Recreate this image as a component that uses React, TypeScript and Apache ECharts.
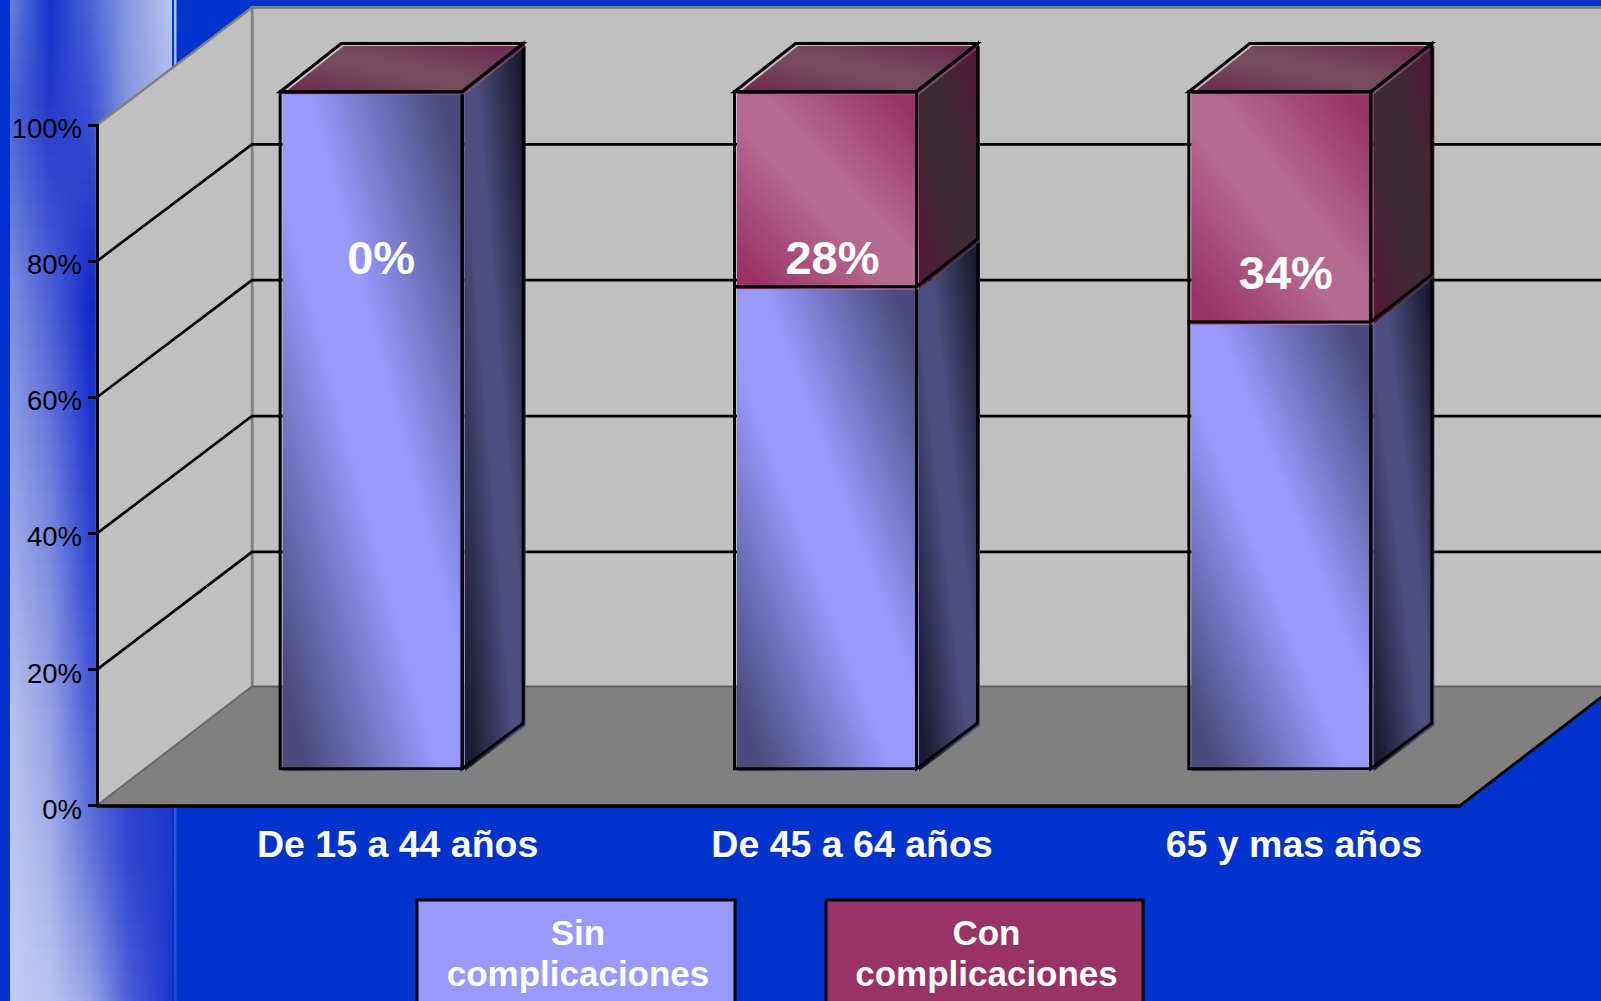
import React, { useEffect, useRef } from "react";
import * as echarts from "echarts";

const categories = ["De 15 a 44 años", "De 45 a 64 años", "65 y mas años"];
const sinValues = [100, 71.2, 66];
const conValues = [0, 28.8, 34];
const dataLabels = ["0%", "28%", "34%"];
const labelLevels = [80.5, 80.5, 78.3];
const labelShiftX = [57, 54, 53];
const gridValues = [20, 40, 60, 80];
const seriesNames = ["Sin complicaciones", "Con complicaciones"];

const W = 1601;
const H = 1001;
const FONT = '"Liberation Sans", Arial, sans-serif';
const BLUE = "#0033CC";

const AXIS_LEFT = 97;
const AXIS_WIDTH = 1363;
const AXIS_TOP = 125;
const AXIS_HEIGHT = 680.7;

const WALL_DX = 155;
const WALL_DY = 119;
const WALL_K = 0.9977;

const BAR_LEFT = -44;
const BAR_WIDTH = 182;
const BAR_INSET_Y = 37;
const BAR_K = 0.9945;
const BAR_DX = 61;
const BAR_DY_BASE = 45.5;
const BAR_DY_TOP = 2.7;
const FILL_SHIFT = 2.5;

const diag = (a: string, b: string) => ({
  type: "linear",
  x: 0,
  y: 1,
  x2: 1,
  y2: 0,
  colorStops: [
    { offset: 0, color: a },
    { offset: 0.07, color: a },
    { offset: 0.43, color: b },
    { offset: 0.57, color: b },
    { offset: 0.93, color: a },
    { offset: 1, color: a },
  ],
});

const blueFront = diag("#4a4a7c", "#9999ff");
const blueSide = diag("#1b1b30", "#4d4d80");
const redFront = diag("#993366", "#b56a90");
const redSide = diag("#4f1a34", "#3d2a35");
const redTop = diag("#6e2a50", "#744c5e");

// Mottled decoration stripe at the left of the slide
const stripeX = [10, 50, 90, 130, 172];
const stripeRows: [number, string[]][] = [
  [0, ["#6a80dc", "#1232cc", "#4a64d6", "#8a9ce2", "#b8c6ee"]],
  [100, ["#4a66d4", "#2438cc", "#3c50d2", "#8a98e0", "#acb8ea"]],
  [300, ["#8090e0", "#5060d6", "#1028c8", "#2a40d0", "#3a50d6"]],
  [500, ["#9aa8e8", "#7484de", "#2a40d0", "#1838cc", "#1838cc"]],
  [700, ["#b4c2ee", "#949fe4", "#4a5cd6", "#2a40d0", "#1838cc"]],
  [850, ["#bccaf0", "#a4b2ea", "#6676da", "#3044d0", "#1a38cc"]],
  [1001, ["#c0cef4", "#b8c6f0", "#98a6e6", "#4c5cd6", "#1a36d0"]],
];

const hex = (c: string) => [1, 3, 5].map((i) => parseInt(c.slice(i, i + 2), 16));
const mix = (a: string, b: string, t: number) => {
  const x = hex(a);
  const y = hex(b);
  return `rgb(${x.map((v, i) => Math.round(v + (y[i] - v) * t)).join(",")})`;
};

function stripeElements() {
  const out: any[] = [];
  const step = 12;
  for (let y = 0; y < H; y += step) {
    let r = 0;
    while (r < stripeRows.length - 2 && stripeRows[r + 1][0] <= y) r++;
    const [y0, c0] = stripeRows[r];
    const [y1, c1] = stripeRows[r + 1];
    const t = (y - y0) / (y1 - y0);
    out.push({
      type: "rect",
      z: -10,
      silent: true,
      shape: { x: stripeX[0], y, width: stripeX[4] - stripeX[0], height: step + 1 },
      style: {
        fill: {
          type: "linear",
          x: 0,
          y: 0,
          x2: 1,
          y2: 0,
          colorStops: stripeX.map((x, i) => ({
            offset: (x - stripeX[0]) / (stripeX[4] - stripeX[0]),
            color: mix(c0[i], c1[i], t),
          })),
        },
      },
    });
  }
  out.push({
    type: "rect",
    z: -9,
    silent: true,
    shape: { x: 174, y: 0, width: 2.5, height: H },
    style: {
      fill: {
        type: "linear",
        x: 0,
        y: 0,
        x2: 0,
        y2: 1,
        colorStops: [
          { offset: 0, color: "#b4c4ee" },
          { offset: 0.3, color: "#6a84e0" },
          { offset: 1, color: "#2048d4" },
        ],
      },
    },
  });
  return out;
}

function legendElements() {
  const boxes = [
    { x: 417, w: 318, fill: "#9999FF", cx: 578 },
    { x: 826, w: 317, fill: "#993366", cx: 986.5 },
  ];
  return boxes.map((b, i) => ({
    type: "group",
    z: 20,
    children: [
      {
        type: "rect",
        z: 20,
        shape: { x: b.x, y: 900, width: b.w, height: 130 },
        style: { fill: b.fill, stroke: "#000", lineWidth: 3 },
      },
      {
        type: "text",
        z: 21,
        style: {
          x: b.cx,
          y: 953,
          text: seriesNames[i].replace(" ", "\n"),
          fill: "#fff",
          font: `bold 35px ${FONT}`,
          lineHeight: 41,
          align: "center",
          verticalAlign: "middle",
        },
      },
    ],
  }));
}

function renderWalls(params: any, api: any) {
  const cs = params.coordSys;
  const left = cs.x;
  const right = cs.x + cs.width;
  const y0 = api.coord([0, 0])[1];
  const y100 = api.coord([0, 100])[1];
  const by = (y: number) => y0 - WALL_DY - (y0 - y) * WALL_K;
  const bx = left + WALL_DX;
  const bRight = right + WALL_DX;
  return {
    type: "group",
    children: [
      {
        type: "polygon",
        shape: { points: [[bx, by(y100)], [bRight + 20, by(y100)], [bRight + 20, by(y0)], [bx, by(y0)]] },
        style: { fill: "#C0C0C0", stroke: "#808080", lineWidth: 3 },
      },
      {
        type: "polygon",
        shape: { points: [[left, y0], [left, y100], [bx, by(y100)], [bx, by(y0)]] },
        style: { fill: "#C0C0C0", stroke: "#808080", lineWidth: 2.5 },
      },
      {
        type: "polygon",
        shape: { points: [[left, y0], [right, y0], [bRight, by(y0)], [bx, by(y0)]] },
        style: { fill: "#808080" },
      },
      {
        type: "line",
        shape: { x1: bx, y1: by(y0), x2: left, y2: y0 },
        style: { stroke: "#666", lineWidth: 1.5 },
      },
      {
        type: "line",
        shape: { x1: bx, y1: by(y0), x2: bRight + 20, y2: by(y0) },
        style: { stroke: "#5c5c5c", lineWidth: 1.5 },
      },
      {
        type: "polygon",
        shape: { points: [[right + 1, y0 + 1], [W + 2, y0 + 1], [W + 2, by(y0) + 1 + ((bRight - W) * WALL_DY) / WALL_DX]] },
        style: { fill: BLUE },
      },
      {
        type: "line",
        shape: { x1: right, y1: y0, x2: bRight, y2: by(y0) },
        style: { stroke: "#000", lineWidth: 2.8 },
      },
    ],
  };
}

function renderGridline(params: any, api: any) {
  const cs = params.coordSys;
  const left = cs.x;
  const y0 = api.coord([0, 0])[1];
  const y = api.coord([0, api.value(1)])[1];
  const by = y0 - WALL_DY - (y0 - y) * WALL_K;
  return {
    type: "polyline",
    shape: { points: [[left, y], [left + WALL_DX, by + 1], [W + 2, by + 1]] },
    style: { fill: "none", stroke: "#000", lineWidth: 2.7 },
  };
}

function renderBlock(front: any, side: any, top: any) {
  return (params: any, api: any) => {
    const cat = api.value(0);
    const y0 = api.coord([cat, 0])[1];
    const cx = api.coord([cat, 0])[0];
    const py = (v: number) => y0 - BAR_INSET_Y - (y0 - api.coord([cat, v])[1]) * BAR_K;
    const backDy = (v: number) => BAR_DY_BASE + (BAR_DY_TOP * v) / 100;
    const vB = api.value(1);
    const vT = api.value(2);
    const yB = py(vB);
    const yT = py(vT);
    const yBb = yB - backDy(vB);
    const yTb = yT - backDy(vT);
    const xL = cx + BAR_LEFT;
    const xR = xL + BAR_WIDTH;
    const s = FILL_SHIFT;
    const frontPts = [[xL, yT], [xR, yT], [xR, yB], [xL, yB]];
    const sidePts = [[xR, yT], [xR + BAR_DX, yTb], [xR + BAR_DX, yBb], [xR, yB]];
    const topPts = [[xL, yT], [xL + BAR_DX, yTb], [xR + BAR_DX, yTb], [xR, yT]];
    const shifted = (pts: number[][]) => pts.map(([x, y]) => [x + s, y + s]);
    const children: any[] = [
      { type: "polygon", shape: { points: shifted(sidePts) }, style: { fill: side } },
      { type: "polygon", shape: { points: shifted(frontPts) }, style: { fill: front } },
    ];
    if (top) children.push({ type: "polygon", shape: { points: shifted(topPts) }, style: { fill: top } });
    const stroke = { fill: "none", stroke: "#000", lineWidth: 3 };
    children.push({ type: "polygon", shape: { points: frontPts }, style: stroke });
    children.push({ type: "polygon", shape: { points: sidePts }, style: stroke });
    if (top) children.push({ type: "polygon", shape: { points: topPts }, style: stroke });
    return { type: "group", children };
  };
}

function renderDataLabel(_: any, api: any) {
  const i = api.value(0);
  const p = api.coord([i, api.value(1)]);
  return {
    type: "text",
    style: {
      x: p[0] + labelShiftX[i],
      y: p[1],
      text: dataLabels[i],
      fill: "#fff",
      font: `bold 47px ${FONT}`,
      align: "center",
      verticalAlign: "middle",
    },
  };
}

export default function App() {
  const ref = useRef<HTMLDivElement>(null);
  useEffect(() => {
    document.body.style.margin = "0";
    document.body.style.overflow = "hidden";
    const chart = echarts.init(ref.current!, null, { renderer: "svg" });
    chart.setOption({
      animation: false,
      backgroundColor: BLUE,
      grid: [
        { left: AXIS_LEFT, top: AXIS_TOP, width: AXIS_WIDTH, height: AXIS_HEIGHT },
        { left: AXIS_LEFT - 67.2, top: AXIS_TOP, width: AXIS_WIDTH, height: AXIS_HEIGHT },
      ],
      xAxis: [
        {
          type: "category",
          gridIndex: 0,
          data: categories,
          z: 5,
          axisLine: { lineStyle: { color: "#000", width: 3.5 } },
          axisTick: { show: false },
          axisLabel: { show: false },
        },
        {
          type: "category",
          gridIndex: 1,
          data: categories,
          axisLine: { show: false },
          axisTick: { show: false },
          axisLabel: {
            color: "#fff",
            fontFamily: FONT,
            fontWeight: "bold",
            fontSize: 37.5,
            align: "left",
            margin: 19,
            interval: 0,
          },
        },
      ],
      yAxis: [
        {
          type: "value",
          gridIndex: 0,
          min: 0,
          max: 100,
          interval: 20,
          z: 5,
          axisLine: { show: true, lineStyle: { color: "#000", width: 3 } },
          axisTick: { show: true, length: 9, lineStyle: { color: "#000", width: 2.8 } },
          splitLine: { show: false },
          axisLabel: {
            color: "#000",
            fontFamily: FONT,
            fontSize: 27.5,
            margin: 15,
            verticalAlign: "top",
            lineHeight: 7,
            formatter: "{value}%",
          },
        },
        { type: "value", gridIndex: 1, min: 0, max: 100, show: false },
      ],
      graphic: { elements: [...stripeElements(), ...legendElements()] },
      series: [
        {
          type: "custom",
          name: "walls",
          z: 1,
          clip: false,
          silent: true,
          renderItem: renderWalls,
          data: [[0, 0]],
        },
        {
          type: "custom",
          name: "gridlines",
          z: 2,
          clip: false,
          silent: true,
          renderItem: renderGridline,
          data: gridValues.map((v) => [0, v]),
        },
        {
          type: "custom",
          name: seriesNames[0],
          z: 6,
          clip: false,
          renderItem: renderBlock(blueFront, blueSide, null),
          data: categories.map((_, i) => [i, 0, sinValues[i]]),
        },
        {
          type: "custom",
          name: seriesNames[1],
          z: 7,
          clip: false,
          renderItem: renderBlock(redFront, redSide, redTop),
          data: categories.map((_, i) => [i, sinValues[i], sinValues[i] + conValues[i]]),
        },
        {
          type: "custom",
          name: "labels",
          z: 8,
          clip: false,
          renderItem: renderDataLabel,
          data: categories.map((_, i) => [i, labelLevels[i]]),
        },
      ],
    });
    return () => chart.dispose();
  }, []);
  return <div ref={ref} style={{ width: W, height: H }} />;
}
